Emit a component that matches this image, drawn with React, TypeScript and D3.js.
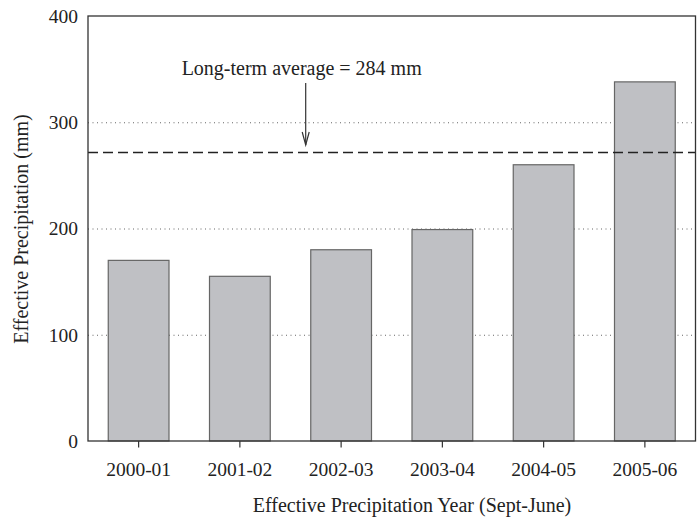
import React from "react";
import * as d3 from "d3";

const categories = ["2000-01", "2001-02", "2002-03", "2003-04", "2004-05", "2005-06"];
const values = [170, 155, 180, 199, 260, 338];
const yTicks = [0, 100, 200, 300, 400];
const gridTicks = [100, 200, 300];
const averageLine = 272;
const annotationText = "Long-term average = 284 mm";
const xTitle = "Effective Precipitation Year (Sept-June)";
const yTitle = "Effective Precipitation (mm)";

const W = 700;
const H = 517;
const frame = { left: 88, right: 695.5, top: 16, bottom: 441 };

export default function App() {
  const y = d3.scaleLinear().domain([0, 400]).range([frame.bottom, frame.top]);
  const x = d3
    .scaleBand<string>()
    .domain(categories)
    .range([frame.left, frame.right])
    .paddingInner(0.4)
    .paddingOuter(0.2);
  const font = "'Liberation Serif', 'Times New Roman', serif";
  const arrowX = 305.7;
  const yAvg = y(averageLine) + 0.5;

  return (
    <svg
      width={W}
      height={H}
      style={{ position: "absolute", left: 0, top: 0, background: "#fff" }}
      fontFamily={font}
    >
      {gridTicks.map((t) => (
        <line
          key={"g" + t}
          x1={frame.left}
          x2={frame.right}
          y1={y(t) + 0.5}
          y2={y(t) + 0.5}
          stroke="#666"
          strokeWidth={1}
          strokeDasharray="1,3.5"
        />
      ))}
      {categories.map((c, i) => (
        <rect
          key={c}
          x={x(c)}
          y={y(values[i])}
          width={x.bandwidth()}
          height={frame.bottom - y(values[i])}
          fill="#bfc0c4"
          stroke="#666"
          strokeWidth={1.2}
        />
      ))}
      <line
        x1={frame.left}
        x2={frame.right}
        y1={yAvg}
        y2={yAvg}
        stroke="#222"
        strokeWidth={1.3}
        strokeDasharray="10,5"
      />
      <rect
        x={frame.left}
        y={frame.top}
        width={frame.right - frame.left}
        height={frame.bottom - frame.top}
        fill="none"
        stroke="#333"
        strokeWidth={1.3}
      />
      {categories.map((c) => {
        const cx = (x(c) as number) + x.bandwidth() / 2;
        return (
          <g key={"t" + c}>
            <line x1={cx} x2={cx} y1={frame.bottom} y2={frame.bottom + 6.5} stroke="#333" strokeWidth={1.2} />
            <text x={cx} y={476} textAnchor="middle" fontSize={19.5} fill="#222">
              {c}
            </text>
          </g>
        );
      })}
      {yTicks.map((t) => (
        <text key={"y" + t} x={78} y={y(t)} dy="0.35em" textAnchor="end" fontSize={19.5} fill="#222">
          {t}
        </text>
      ))}
      <text x={412} y={512} textAnchor="middle" fontSize={20} fill="#222">
        {xTitle}
      </text>
      <text
        transform={`translate(28, 229) rotate(-90)`}
        textAnchor="middle"
        fontSize={20}
        fill="#222"
      >
        {yTitle}
      </text>
      <text x={301.7} y={75} textAnchor="middle" fontSize={20} fill="#222">
        {annotationText}
      </text>
      <line x1={arrowX} x2={arrowX} y1={83} y2={145} stroke="#333" strokeWidth={1.2} />
      <path
        d={`M${arrowX - 3.5},${132} L${arrowX},${145} L${arrowX + 3.5},${132}`}
        fill="none"
        stroke="#333"
        strokeWidth={1.2}
      />
    </svg>
  );
}
